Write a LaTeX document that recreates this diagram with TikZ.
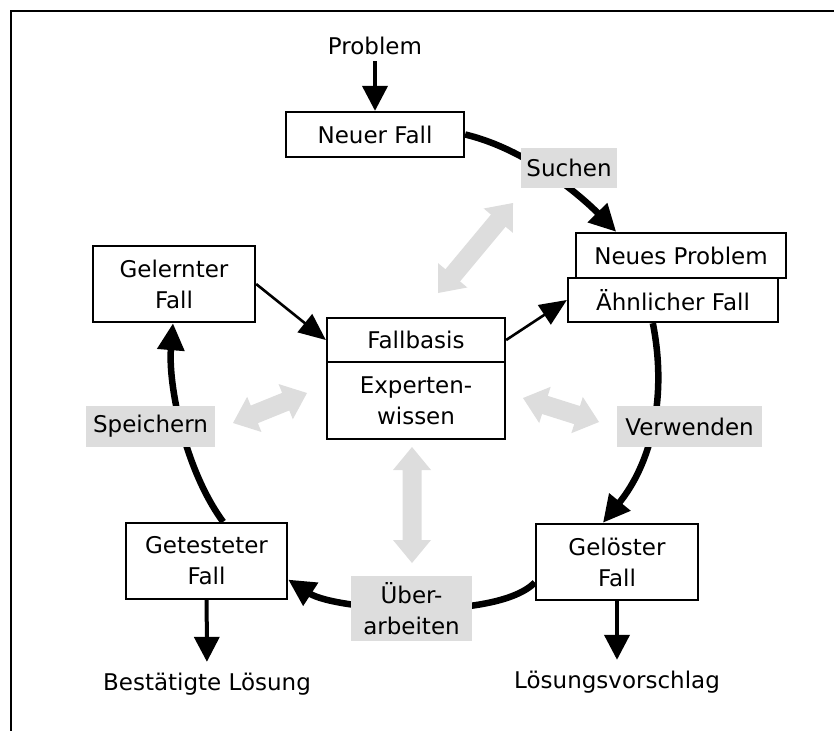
\documentclass[tikz,border=0pt]{standalone}
\usepackage{fontspec}
\setmainfont{DejaVu Sans}
\usetikzlibrary{arrows.meta,calc}

\definecolor{panelgrey}{HTML}{DDDDDD}
\newcommand\boxfont{\fontsize{23}{31}\selectfont}

% grey two-headed block arrow between two named points
\newcommand\gaHeadLen{23pt}
\newcommand\gaHeadHalf{19pt}
\newcommand\gaShaftHalf{9.5pt}
\newcommand\greydblarrow[2]{%
  \fill[panelgrey] (#1)
    -- ($(#1)!\gaHeadLen!(#2)!\gaHeadHalf!90:(#2)$)
    -- ($(#1)!\gaHeadLen!(#2)!\gaShaftHalf!90:(#2)$)
    -- ($(#2)!\gaHeadLen!(#1)!\gaShaftHalf!-90:(#1)$)
    -- ($(#2)!\gaHeadLen!(#1)!\gaHeadHalf!-90:(#1)$)
    -- (#2)
    -- ($(#2)!\gaHeadLen!(#1)!\gaHeadHalf!90:(#1)$)
    -- ($(#2)!\gaHeadLen!(#1)!\gaShaftHalf!90:(#1)$)
    -- ($(#1)!\gaHeadLen!(#2)!\gaShaftHalf!-90:(#2)$)
    -- ($(#1)!\gaHeadLen!(#2)!\gaHeadHalf!-90:(#2)$)
    -- cycle;}

\tikzset{
  box/.style={draw, line width=2.3pt, fill=white, inner sep=0pt, align=center, font=\boxfont},
  tag/.style={fill=panelgrey, inner sep=0pt, align=center, font=\boxfont},
  plain/.style={inner sep=0pt, font=\boxfont, text height=17pt, text depth=5pt, anchor=base},
  cyclearrow/.style={line width=6.5pt, -{Triangle[length=27pt,width=26pt]}},
  thinarrow/.style={line width=4pt, -{Triangle[length=25pt,width=25pt]}},
  linkarrow/.style={line width=2.6pt, -{Triangle[length=27pt,width=23pt]}},
}

\begin{document}
\begin{tikzpicture}[x=1pt,y=-1pt]
\useasboundingbox (0,0) rectangle (834,731);

% frame
\draw[line width=2.6pt] (834,11) -- (11,11) -- (11,731);

% exchange with the case base
\coordinate (sa) at (438,293);  \coordinate (sb) at (513,203);
\coordinate (va) at (523,398);  \coordinate (vb) at (599,422);
\coordinate (pa) at (233,423);  \coordinate (pb) at (307,393);
\coordinate (ua) at (412,447);  \coordinate (ub) at (412,563);
\greydblarrow{sa}{sb}
\greydblarrow{va}{vb}
\greydblarrow{pa}{pb}
\greydblarrow{ua}{ub}

% boxes
\node[plain] (problem) at (375,54) {Problem};
\node[box, minimum width=178pt, minimum height=45pt] (neuer) at (375,134.5) {Neuer Fall};
\node[box, minimum width=210pt, minimum height=45pt] (neuesp) at (681,255.5) {Neues Problem};
\node[box, minimum width=210pt, minimum height=44pt] (aehnl) at (673,300) {Ähnlicher Fall};
\node[box, minimum width=178pt, minimum height=44pt] (fallbasis) at (416,340) {Fallbasis};
\node[box, minimum width=178pt, minimum height=77pt] (experten) at (416,400.5) {Experten-\\wissen};
\node[box, minimum width=162pt, minimum height=76pt] (gelernt) at (174,284) {Gelernter\\Fall};
\node[box, minimum width=161pt, minimum height=76pt] (getest) at (206.5,561) {Getesteter\\Fall};
\node[box, minimum width=162pt, minimum height=76pt] (geloest) at (617,562) {Gelöster\\Fall};
\node[plain] (bestaetigt) at (207,690) {Bestätigte Lösung};
\node[plain] (vorschlag) at (617,688) {Lösungsvorschlag};

% the cycle
\draw[cyclearrow] (neuer.east)
  .. controls (530,150) and (585,200) ..
  ($(neuesp.north west)!0.195!(neuesp.north east)$);
\draw[cyclearrow] ($(aehnl.south west)!0.405!(aehnl.south east)$)
  .. controls (668,400) and (650,465) ..
  ($(geloest.north west)!0.414!(geloest.north east)$);
\draw[cyclearrow] ($(geloest.north west)!0.763!(geloest.south west)$)
  .. controls (495,622) and (335,610) ..
  ($(getest.north east)!0.737!(getest.south east)$);
\draw[cyclearrow] ($(getest.north west)!0.602!(getest.north east)$)
  .. controls (185,470) and (168,385) ..
  ($(gelernt.south west)!0.494!(gelernt.south east)$);

% step labels
\node[tag, minimum width=96pt, minimum height=40pt] (suchen) at (569,168) {Suchen};
\node[tag, minimum width=145pt, minimum height=41pt] (verwenden) at (689.5,426.5) {Verwenden};
\node[tag, minimum width=129pt, minimum height=41pt] (speichern) at (150.5,426.5) {Speichern};
\node[tag, minimum width=121pt, minimum height=65pt] (ueber) at (411.5,608.5) {Über-\\arbeiten};

% inputs and outputs
\draw[thinarrow, shorten <=2pt] (problem) -- (neuer);
\draw[thinarrow, shorten >=11pt] (geloest) -- (vorschlag);
\draw[thinarrow, shorten >=11pt] (getest) -- (bestaetigt);

% links with the case base
\draw[linkarrow] (gelernt.east) -- (fallbasis.west);
\draw[linkarrow] (fallbasis.east) -- (aehnl.west);
\end{tikzpicture}
\end{document}
